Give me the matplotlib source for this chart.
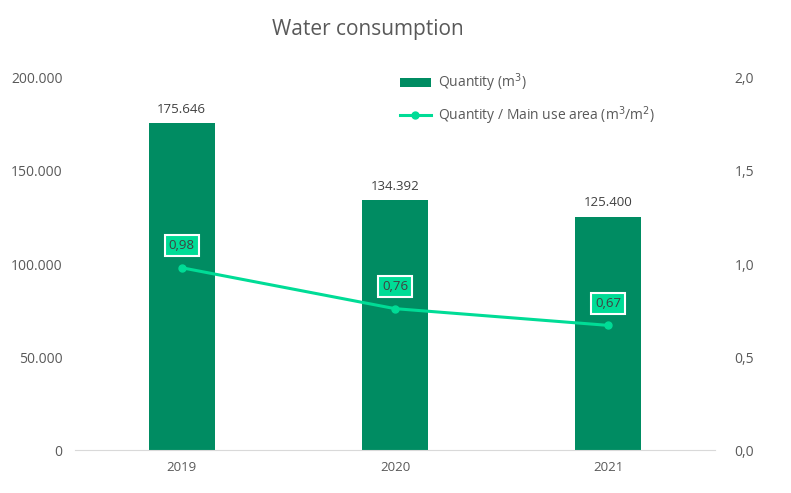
import matplotlib.pyplot as plt
from matplotlib.ticker import FuncFormatter

years = ['2019', '2020', '2021']
quantity = [175646, 134392, 125400]
ratio = [0.98, 0.76, 0.67]

bar_color = '#008C62'
line_color = '#00DC96'
txt = '#595959'

plt.rcParams['font.family'] = ['Open Sans', 'DejaVu Sans']

fig = plt.figure(figsize=(7.91, 4.93), dpi=100)
ax = fig.add_axes([0.0948, 0.0872, 0.809, 0.7546])
ax2 = ax.twinx()

x = list(range(len(years)))
bars = ax.bar(x, quantity, width=0.31, color=bar_color, label='Quantity (m$^3$)', zorder=2)
ax.set_xlim(-0.5, 2.5)
ax.set_ylim(0, 200000)
ax.set_yticks([0, 50000, 100000, 150000, 200000])
ax.yaxis.set_major_formatter(FuncFormatter(lambda v, p: '{:,.0f}'.format(v).replace(',', '.')))
ax.set_xticks(x)
ax.set_xticklabels(years)
for xi, q in zip(x, quantity):
    ax.text(xi, q + 4000, '{:,.0f}'.format(q).replace(',', '.'), ha='center', va='bottom',
            fontsize=9.5, color='#404040')

line, = ax2.plot(x, ratio, '-o', color=line_color, lw=2.2, ms=5, label='Quantity / Main use area (m$^3$/m$^2$)')
ax2.set_ylim(0, 2.0)
ax2.set_yticks([0, 0.5, 1.0, 1.5, 2.0])
ax2.yaxis.set_major_formatter(FuncFormatter(lambda v, p: '{:.1f}'.format(v).replace('.', ',')))
for xi, r in zip(x, ratio):
    ax2.text(xi, r + 0.12, '{:.2f}'.format(r).replace('.', ','), ha='center', va='center',
             fontsize=9.5, color='#404040',
             bbox=dict(boxstyle='square,pad=0.3', fc=line_color, ec='white', lw=1.5))

for a in (ax, ax2):
    for s in ('top', 'left', 'right'):
        a.spines[s].set_visible(False)
    a.tick_params(length=0, labelsize=10, colors=txt)
ax.spines['bottom'].set_visible(False)
ax2.spines['bottom'].set_color('#D9D9D9')
ax.tick_params(axis='y', pad=9)
ax2.tick_params(axis='y', pad=14)
ax.tick_params(axis='x', pad=8, labelsize=9.5)

fig.text(0.465, 0.94, 'Water consumption', ha='center', va='center', fontsize=15, color=txt)

fig.legend(handles=[bars, line], loc='upper left', bbox_to_anchor=(0.49, 0.88), frameon=False,
           fontsize=10, labelcolor=txt, handlelength=2.2, handletextpad=0.5, labelspacing=0.75)

fig.savefig('out.png', dpi=100)
